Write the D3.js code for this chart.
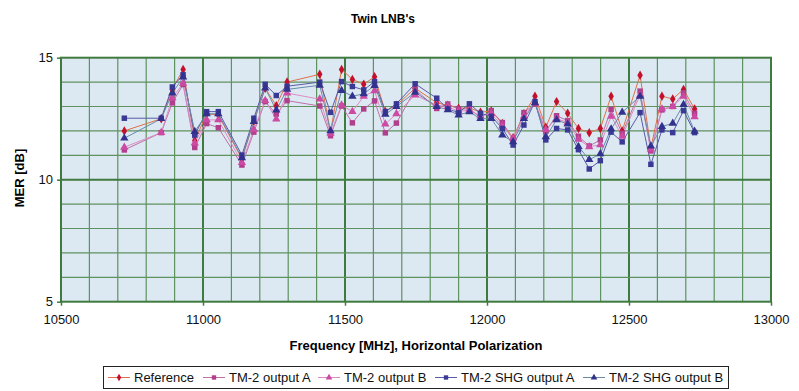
<!DOCTYPE html>
<html><head><meta charset="utf-8">
<script src="https://cdn.jsdelivr.net/npm/d3@7"></script>
<style>body{margin:0;background:#fff;}svg{display:block;font-family:Arial,"Liberation Sans",sans-serif;}</style>
</head><body><svg id="c" width="799" height="391"></svg>
<script>
const freqs = [10723,10853,10892,10930,10971,11013,11054,11137,11179,11219,11258,11296,11411,11449,11488,11526,11566,11604,11642,11681,11747,11823,11862,11900,11938,11977,12015,12054,12092,12130,12169,12207,12245,12284,12322,12360,12399,12437,12476,12539,12577,12616,12654,12692,12731];
const reference = [12.0,12.5,13.7,14.52,11.6,12.7,12.65,10.85,12.4,13.75,13.03,14.0,14.32,11.95,14.52,14.11,13.91,14.22,12.8,13.05,13.75,13.15,13.05,12.93,12.95,12.76,12.82,12.3,11.72,12.7,13.42,12.15,13.2,12.72,12.1,11.92,12.1,13.42,12.0,14.28,11.3,13.42,13.31,13.7,12.9];
const outputA = [11.22,11.93,13.15,13.9,11.32,12.3,12.13,10.6,11.95,13.2,12.69,13.24,13.02,11.8,13.02,12.33,12.9,13.23,11.92,12.32,13.7,12.92,13.1,12.9,12.9,12.55,12.83,12.34,11.62,12.75,13.1,12.0,12.62,12.42,11.78,11.38,11.63,12.88,11.9,13.63,11.18,12.86,13.0,13.56,12.72];
const outputB = [11.33,11.93,13.35,13.95,11.5,12.45,12.45,10.7,12.05,13.24,12.48,13.55,13.3,11.9,13.06,12.79,13.42,13.64,12.28,12.7,13.47,13.05,13.0,12.8,12.85,12.62,12.7,12.2,11.7,12.6,13.15,12.05,12.5,12.35,11.65,11.35,11.43,12.6,11.78,13.47,11.25,12.9,13.0,13.42,12.58];
const shgA = [12.52,12.52,13.8,14.3,11.83,12.79,12.79,11.01,12.52,13.91,13.45,13.83,14.0,12.76,14.02,13.82,13.68,14.02,12.79,13.11,13.93,13.34,12.9,12.75,13.11,12.72,12.6,12.1,11.42,12.24,13.2,11.63,12.1,12.04,11.23,10.44,10.78,11.95,11.55,12.75,10.63,12.04,11.93,12.83,11.93];
const shgB = [11.7,12.5,13.55,14.2,11.97,12.7,12.7,10.9,12.38,13.75,12.85,13.7,13.87,12.0,13.65,13.42,13.52,13.86,12.68,13.0,13.58,13.0,12.86,12.65,12.78,12.5,12.5,11.83,11.55,12.5,13.15,11.76,12.45,12.28,11.36,10.82,11.06,12.08,12.76,13.42,11.38,12.18,12.31,13.08,11.98];
const seriesNames = ["Reference","TM-2 output A","TM-2 output B","TM-2 SHG output A","TM-2 SHG output B"];
const xTicks = [10500,11000,11500,12000,12500,13000];
const yTicks = [5,10,15];

const series = [
  {name:seriesNames[0], values:reference, line:"#e0704a", fill:"#c4102c", shape:"diamond"},
  {name:seriesNames[1], values:outputA, line:"#c070a8", fill:"#b0408c", shape:"square"},
  {name:seriesNames[2], values:outputB, line:"#dc8cc4", fill:"#cc4aa4", shape:"triangle"},
  {name:seriesNames[3], values:shgA, line:"#5a5aa8", fill:"#3a3a96", shape:"square"},
  {name:seriesNames[4], values:shgB, line:"#6a8aa8", fill:"#32328e", shape:"triangle"}
];

const svg = d3.select("#c");
const L=61, R=771, T=57.7, B=301.7;
const x = d3.scaleLinear().domain([10500,13000]).range([L,R]);
const y = d3.scaleLinear().domain([5,15]).range([B,T]);

svg.append("rect").attr("x",L).attr("y",T).attr("width",R-L).attr("height",B-T).attr("fill","#dce9f2");

// minor grid
const g = svg.append("g");
d3.range(10600,13000,100).forEach(f=>{
  const major = f%500===0;
  g.append("line").attr("x1",x(f)).attr("x2",x(f)).attr("y1",T).attr("y2",B)
   .attr("stroke",major?"#3f7a3f":"#5e925e").attr("stroke-width",major?2:1.2);
});
d3.range(6,15,1).forEach(v=>{
  const major = v%5===0;
  g.append("line").attr("x1",L).attr("x2",R).attr("y1",y(v)).attr("y2",y(v))
   .attr("stroke",major?"#3f7a3f":"#5e925e").attr("stroke-width",major?2:1.2);
});
svg.append("rect").attr("x",L).attr("y",T).attr("width",R-L).attr("height",B-T)
  .attr("fill","none").attr("stroke","#3f7a3f").attr("stroke-width",2);

// axes
const xAxis = svg.append("g").attr("transform",`translate(0,${B})`)
  .call(d3.axisBottom(x).tickValues(xTicks).tickSize(4).tickPadding(9).tickFormat(d3.format("d")));
const yAxis = svg.append("g").attr("transform",`translate(${L},0)`)
  .call(d3.axisLeft(y).tickValues(yTicks).tickSize(4).tickPadding(4));
[xAxis,yAxis].forEach(a=>{
  a.select(".domain").remove();
  a.selectAll("line").attr("stroke","#3f7a3f").attr("stroke-width",1.5);
  a.selectAll("text").attr("font-size",13).attr("fill","#111").attr("font-family","Arial, 'Liberation Sans', sans-serif");
});

const sym = {
  diamond: d3.symbol().type(d3.symbolDiamond).size(26),
  square: d3.symbol().type(d3.symbolSquare).size(30),
  triangle: d3.symbol().type(d3.symbolTriangle).size(30)
};
const line = d3.line().x((d,i)=>x(freqs[i])).y(d=>y(d));
series.forEach(s=>{
  svg.append("path").datum(s.values).attr("d",line).attr("fill","none")
    .attr("stroke",s.line).attr("stroke-width",1);
});
series.forEach(s=>{
  svg.append("g").selectAll("path").data(s.values).join("path")
    .attr("d",sym[s.shape]())
    .attr("transform",(d,i)=>`translate(${x(freqs[i])},${y(d)})`)
    .attr("fill",s.fill);
});

// titles
svg.append("text").attr("x",383).attr("y",23).attr("text-anchor","middle")
  .attr("font-size",12).attr("font-weight","bold").text("Twin LNB's");
svg.append("text").attr("transform","translate(24,178) rotate(-90)").attr("text-anchor","middle")
  .attr("font-size",13).attr("font-weight","bold").text("MER [dB]");
svg.append("text").attr("x",416).attr("y",350).attr("text-anchor","middle")
  .attr("font-size",13).attr("font-weight","bold").text("Frequency [MHz], Horizontal Polarization");

// legend
const lg = svg.append("g");
lg.append("rect").attr("x",103.5).attr("y",366.5).attr("width",625).attr("height",22)
  .attr("fill","#fff").attr("stroke","#222").attr("stroke-width",1);
const lx = [108,203,318,435,583];
series.forEach((s,i)=>{
  const gx = lx[i], gy = 377.5;
  lg.append("line").attr("x1",gx).attr("x2",gx+22).attr("y1",gy).attr("y2",gy).attr("stroke",s.line).attr("stroke-width",1);
  lg.append("path").attr("d",sym[s.shape]()).attr("transform",`translate(${gx+11},${gy}) scale(0.8)`).attr("fill",s.fill);
  lg.append("text").attr("x",gx+26).attr("y",gy+4.5).attr("font-size",13).attr("fill","#111").text(s.name);
});
</script></body></html>
